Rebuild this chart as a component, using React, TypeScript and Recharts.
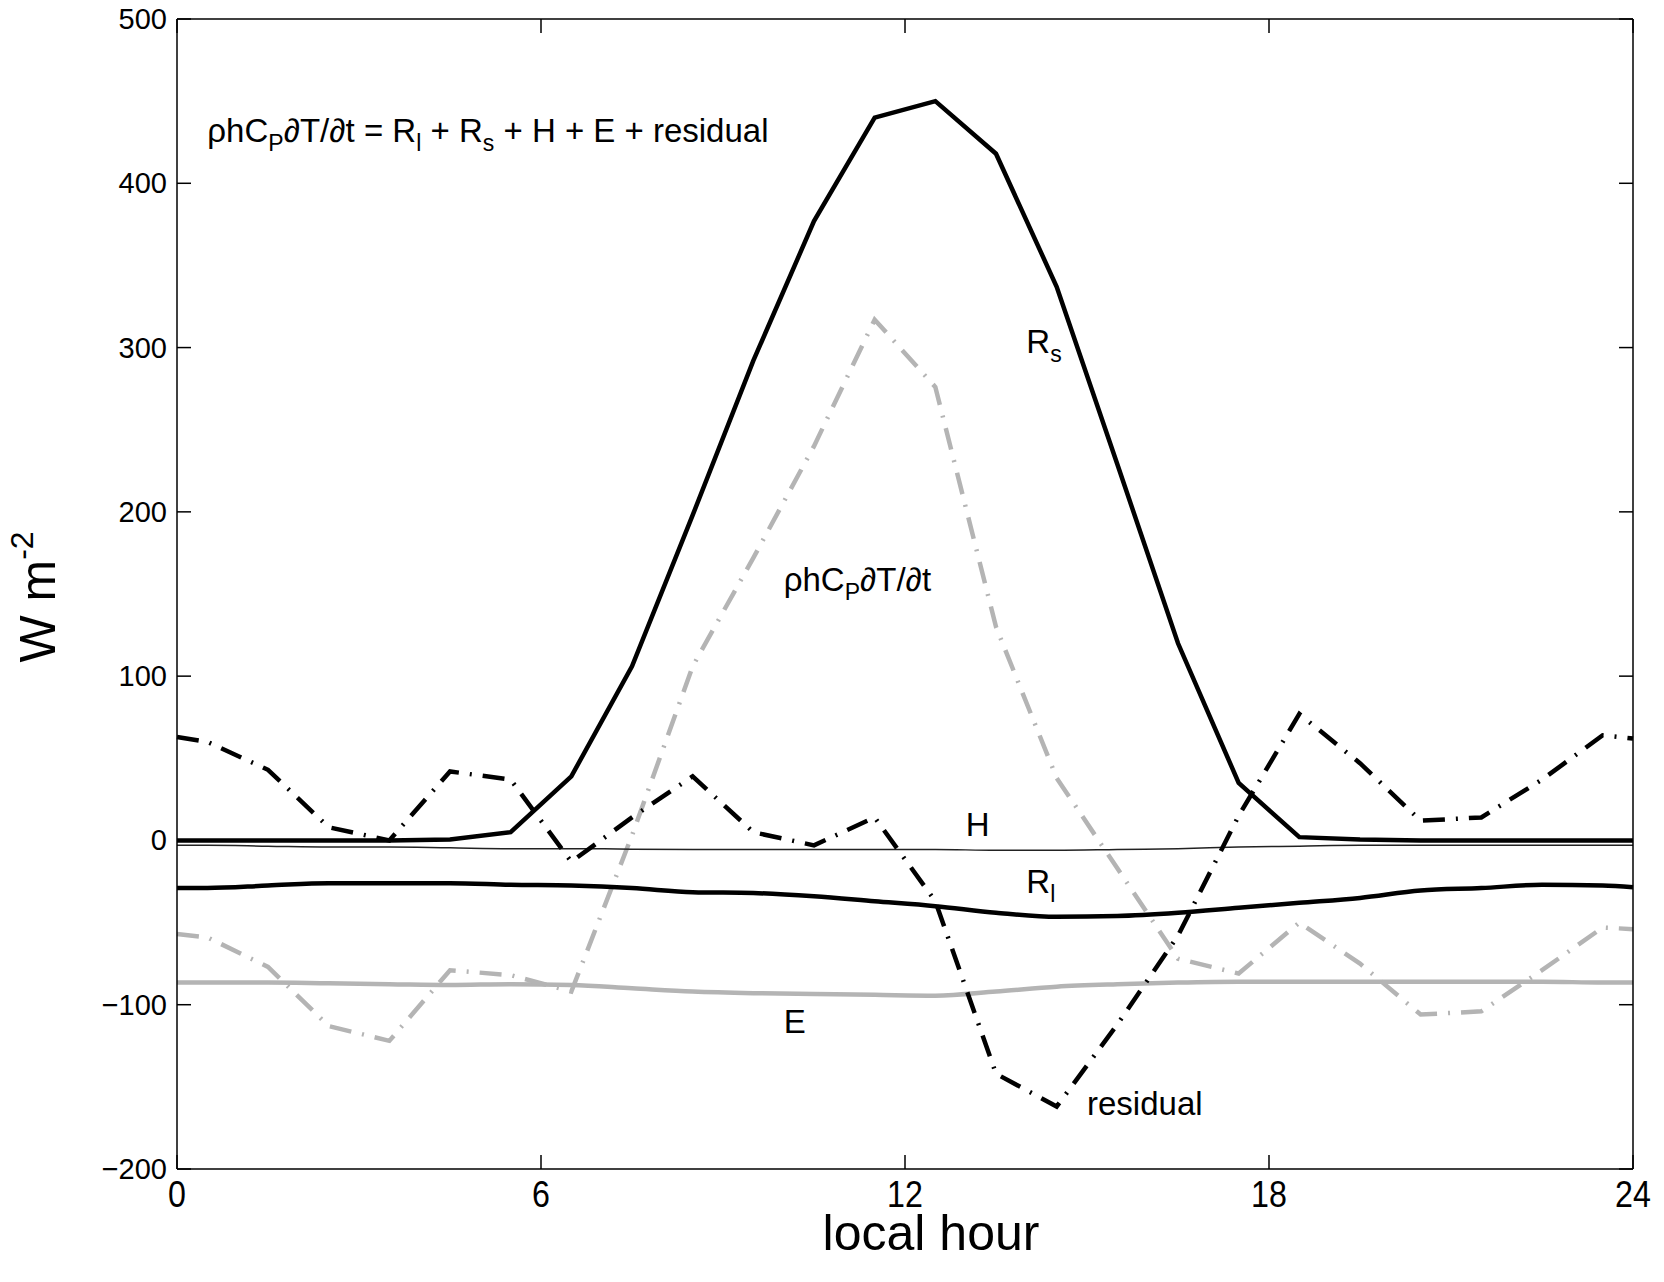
import React from 'react';
import { LineChart, Line, XAxis, YAxis, ReferenceDot } from 'recharts';

// local hour (data at half hours, with the day's ends)
const hours = [0, 0.5, 1.5, 2.5, 3.5, 4.5, 5.5, 6.5, 7.5, 8.5, 9.5, 10.5, 11.5, 12.5, 13.5, 14.5, 15.5, 16.5, 17.5, 18.5, 19.5, 20.5, 21.5, 22.5, 23.5, 24];

// shortwave radiation R_s
const rs = [0, 0, 0, 0, 0, 0.5, 5, 39, 106, 198, 292, 377, 440, 450, 418, 337, 229, 120, 35, 2, 0.5, 0, 0, 0, 0, 0];
// longwave radiation R_l
const rl = [-29, -29, -27.5, -26, -26, -26, -27, -27.5, -29, -31.5, -32, -34, -37, -40, -44, -46.5, -46, -44, -41, -38, -35, -30.5, -29, -27, -27.5, -28.5];
// latent heat E
const ev = [-86.5, -86.5, -86.5, -87, -87.5, -88, -87.5, -88, -90, -92, -93, -93.5, -94, -94.5, -92, -89, -87.5, -86.5, -86, -86, -86, -86, -86, -86, -86.5, -86.5];
// sensible heat H
const hs = [-3, -3, -3.5, -4, -4, -4.5, -5, -5, -5.3, -5.5, -5.5, -5.5, -5.5, -5.5, -6, -6, -5.5, -5, -4, -3.5, -3, -3, -3, -3, -3, -3];
// storage rho h Cp dT/dt
const storage = [-57, -59, -77, -113, -122, -79, -82, -92, 3, 106, 172, 240, 317, 276, 130, 38, -17, -72, -81, -50, -75, -106, -104, -79, -53, -54];
// residual
const residual = [63, 60, 43, 8, 0, 42, 37, -13, 14, 39, 5, -3, 14, -37, -142, -162, -112, -58, 15, 77, 47, 12, 14, 37, 64, 62];

const xTicks = [0, 6, 12, 18, 24];
const yTicks = [-200, -100, 0, 100, 200, 300, 400, 500];

const data = hours.map((h, i) => ({
  hour: h,
  rs: rs[i],
  rl: rl[i],
  e: ev[i],
  h: hs[i],
  storage: storage[i],
  residual: residual[i],
}));

const FONT = '"Liberation Sans", Arial, Helvetica, sans-serif';
const TICK = 14;
const GRAY = '#b4b4b4';
const DASHDOT = '22 11 2 11';

const fmtY = (v: number) => (v < 0 ? '\u2212' + Math.abs(v) : String(v));

const LeftTick = (props: any) => {
  const { x, y, payload } = props;
  const ax = x + 10;
  return (
    <g>
      <line x1={ax} x2={ax + TICK} y1={y} y2={y} stroke="#000" strokeWidth={1.5} />
      <text x={x} y={y} textAnchor="end" dominantBaseline="central" fontSize={29} fontFamily={FONT} fill="#000">
        {fmtY(payload.value)}
      </text>
    </g>
  );
};

const BottomTick = (props: any) => {
  const { x, y, payload } = props;
  const ay = y - 8;
  return (
    <g>
      <line x1={x} x2={x} y1={ay} y2={ay - TICK} stroke="#000" strokeWidth={1.5} />
      <g transform={`translate(${x}, ${ay + 38}) scale(0.87, 1)`}>
        <text x={0} y={0} textAnchor="middle" fontSize={37} fontFamily={FONT} fill="#000">
          {payload.value}
        </text>
      </g>
    </g>
  );
};

const RightTick = (props: any) => {
  const { x, y } = props;
  return <line x1={x} x2={x - TICK} y1={y} y2={y} stroke="#000" strokeWidth={1.5} />;
};

const TopTick = (props: any) => {
  const { x, y } = props;
  return <line x1={x} x2={x} y1={y} y2={y + TICK} stroke="#000" strokeWidth={1.5} />;
};

const XTitle = (props: any) => {
  const vb = props.viewBox || { x: 0, y: 0, width: 0, height: 0 };
  return (
    <text x={vb.x + vb.width / 2 + 26} y={vb.y + 81} textAnchor="middle" fontSize={50} fontFamily={FONT} fill="#000">
      local hour
    </text>
  );
};

const YTitle = (props: any) => {
  const vb = props.viewBox || { x: 0, y: 0, width: 0, height: 0 };
  const cy = vb.y + vb.height / 2 + 3;
  return (
    <text transform={`translate(55, ${cy}) rotate(-90)`} x={0} y={0} textAnchor="middle" fontSize={50} fontFamily={FONT} fill="#000">
      W m<tspan fontSize={32} dy={-22}>-2</tspan>
    </text>
  );
};

const txt = (content: React.ReactNode, size = 33) => (p: any) => (
  <text x={p.cx} y={p.cy} fontSize={size} fontFamily={FONT} fill="#000">
    {content}
  </text>
);

const SUB = 23;

export default function App() {
  return (
    <div style={{ position: 'absolute', left: 0, top: 0, background: '#fff' }}>
      <LineChart width={1664} height={1282} data={data} margin={{ top: 18, right: 30, bottom: 53, left: 77 }}>
        <XAxis
          dataKey="hour"
          type="number"
          domain={[0, 24]}
          ticks={xTicks}
          interval={0}
          tickSize={0}
          tickMargin={8}
          tickLine={false}
          height={60}
          axisLine={{ stroke: '#000', strokeWidth: 1.5 }}
          tick={<BottomTick />}
          label={{ content: <XTitle /> }}
        />
        <XAxis
          xAxisId="top"
          orientation="top"
          dataKey="hour"
          type="number"
          domain={[0, 24]}
          ticks={xTicks}
          interval={0}
          tickSize={0}
          tickMargin={0}
          tickLine={false}
          height={1}
          axisLine={{ stroke: '#000', strokeWidth: 1.5 }}
          tick={<TopTick />}
        />
        <YAxis
          type="number"
          domain={[-200, 500]}
          ticks={yTicks}
          interval={0}
          tickSize={0}
          tickMargin={10}
          tickLine={false}
          width={100}
          axisLine={{ stroke: '#000', strokeWidth: 1.5 }}
          tick={<LeftTick />}
          label={{ content: <YTitle /> }}
        />
        <YAxis
          yAxisId="right"
          orientation="right"
          type="number"
          domain={[-200, 500]}
          ticks={yTicks}
          interval={0}
          tickSize={0}
          tickMargin={0}
          tickLine={false}
          width={1}
          axisLine={{ stroke: '#000', strokeWidth: 1.5 }}
          tick={<RightTick />}
        />

        {/* invisible series that binds the frame axes (top / right) to the data */}
        <Line xAxisId="top" yAxisId="right" dataKey="h" stroke="none" strokeWidth={0} dot={false} activeDot={false} isAnimationActive={false} />

        <Line dataKey="e" type="monotone" stroke={GRAY} strokeWidth={4.5} dot={false} isAnimationActive={false} />
        <Line dataKey="storage" type="linear" stroke={GRAY} strokeWidth={4.5} strokeDasharray={DASHDOT} dot={false} isAnimationActive={false} />
        <Line dataKey="h" type="monotone" stroke="#222" strokeWidth={1.5} dot={false} isAnimationActive={false} />
        <Line dataKey="rl" type="monotone" stroke="#000" strokeWidth={4.5} dot={false} isAnimationActive={false} />
        <Line dataKey="rs" type="linear" stroke="#000" strokeWidth={4.5} dot={false} isAnimationActive={false} />
        <Line dataKey="residual" type="linear" stroke="#000" strokeWidth={4.5} strokeDasharray={DASHDOT} dot={false} isAnimationActive={false} />

        <ReferenceDot
          x={0.5}
          y={425}
          r={0}
          ifOverflow="visible"
          shape={txt(
            <>
              ρhC<tspan fontSize={SUB} dy={9}>P</tspan>
              <tspan dy={-9}>∂T/∂t = R</tspan>
              <tspan fontSize={SUB} dy={9}>l</tspan>
              <tspan dy={-9}> + R</tspan>
              <tspan fontSize={SUB} dy={9}>s</tspan>
              <tspan dy={-9}> + H + E + residual</tspan>
            </>
          )}
        />
        <ReferenceDot
          x={14}
          y={297}
          r={0}
          ifOverflow="visible"
          shape={txt(
            <>
              R<tspan fontSize={SUB} dy={9}>s</tspan>
            </>
          )}
        />
        <ReferenceDot
          x={10}
          y={152}
          r={0}
          ifOverflow="visible"
          shape={txt(
            <>
              ρhC<tspan fontSize={SUB} dy={9}>P</tspan>
              <tspan dy={-9}>∂T/∂t</tspan>
            </>
          )}
        />
        <ReferenceDot x={13} y={3} r={0} ifOverflow="visible" shape={txt('H')} />
        <ReferenceDot
          x={14}
          y={-32}
          r={0}
          ifOverflow="visible"
          shape={txt(
            <>
              R<tspan fontSize={SUB} dy={9}>l</tspan>
            </>
          )}
        />
        <ReferenceDot x={10} y={-117} r={0} ifOverflow="visible" shape={txt('E')} />
        <ReferenceDot x={15} y={-167} r={0} ifOverflow="visible" shape={txt('residual')} />
      </LineChart>
    </div>
  );
}
